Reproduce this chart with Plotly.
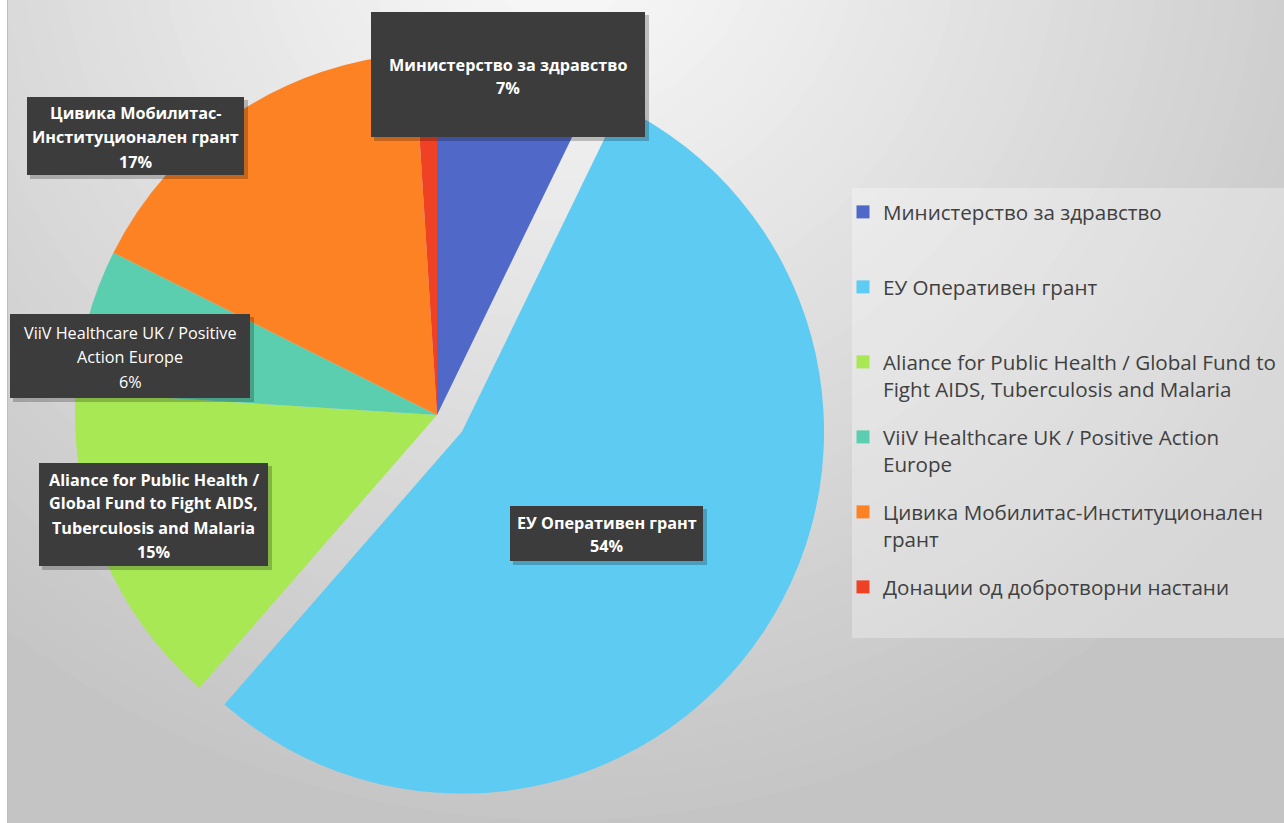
import plotly.graph_objects as go

W, H = 1284, 823

# ---- data ----
categories = [
    "Министерство за здравство",
    "ЕУ Оперативен грант",
    "Aliance for Public Health / Global Fund to Fight AIDS, Tuberculosis and Malaria",
    "ViiV Healthcare UK / Positive Action Europe",
    "Цивика Мобилитас-Институционален грант",
    "Донации од добротворни настани",
]
values = [7.2, 54.2, 14.6, 6.4, 16.6, 1.0]
pulls = [0, 0.083, 0, 0, 0, 0]
colors = ["#5068C8", "#5ECBF2", "#A8E855", "#5BCEAF", "#FD8223", "#EF4123"]

legend_lines = [
    ["Министерство за здравство"],
    ["ЕУ Оперативен грант"],
    ["Aliance for Public Health / Global Fund to", "Fight AIDS, Tuberculosis and Malaria"],
    ["ViiV Healthcare UK / Positive Action", "Europe"],
    ["Цивика Мобилитас-Институционален", "грант"],
    ["Донации од добротворни настани"],
]

callout_lines = [
    ["Министерство за здравство"],
    ["ЕУ Оперативен грант"],
    ["Aliance for Public Health /", "Global Fund to Fight AIDS,", "Tuberculosis and Malaria"],
    ["ViiV Healthcare UK / Positive", "Action Europe"],
    ["Цивика Мобилитас-", "Институционален грант"],
    None,
]

# ---- styling / placement (pixels) ----
callout_boxes = [(371, 12, 645, 137), (510, 506, 703, 561), (39, 463, 268, 566),
                 (10, 314, 250, 398), (27, 97, 244, 175), None]
callout_line_y = [[65, 88], [523, 546], [480, 503, 528, 552],
                  [333, 357, 382], [113, 137, 162], None]
callout_bold = [True, True, True, False, True, None]

FONT = "Open Sans"
LEG_FONT = 20.6
LEG_ITEM = 75

def px(x):
    return x / W

def py(y):
    return 1 - y / H

total = sum(values)
pcts = [round(v / total * 100) for v in values]

cx, cy, R, maxpull = 437, 415, 362, max(pulls)
half = R * (1 + maxpull)

fig = go.Figure()
fig.add_trace(go.Pie(
    labels=categories,
    values=values,
    pull=pulls,
    sort=False,
    direction="clockwise",
    rotation=0,
    textinfo="none",
    hoverinfo="skip",
    showlegend=False,
    marker=dict(colors=colors, line=dict(width=0)),
    domain=dict(x=[px(cx - half), px(cx + half)], y=[py(cy + half), py(cy - half)]),
))

# legend entries (one per category, same colours as the slices)
for i, (cat, lines) in enumerate(zip(categories, legend_lines)):
    ls = list(lines)
    while len(ls) < 2:
        ls.append(" ")
    fig.add_trace(go.Scatter(
        x=[None], y=[None], mode="markers", name="<br>".join(ls),
        legendgroup=f"g{i}", showlegend=True, hoverinfo="skip",
        marker=dict(symbol="square", size=13, color=colors[i]),
    ))

shapes = []
# background radial gradient
gcx, gcy = 560, -80
r = 1400
while r > 0:
    g = int(max(196, min(252, 252 - 0.06 * r)))
    shapes.append(dict(type="circle", xref="paper", yref="paper", layer="below",
                       x0=px(gcx - r), x1=px(gcx + r), y0=py(gcy + r), y1=py(gcy - r),
                       fillcolor=f"rgb({g},{g},{g})", line=dict(width=0)))
    r -= 20
# white strip at left edge and thin border
shapes.append(dict(type="rect", xref="paper", yref="paper", layer="below",
                   x0=px(-5), x1=px(7), y0=0, y1=1, fillcolor="white", line=dict(width=0)))
shapes.append(dict(type="line", xref="paper", yref="paper", layer="below",
                   x0=px(7.5), x1=px(7.5), y0=0, y1=1, line=dict(color="#bdbdbd", width=1)))
# legend background
shapes.append(dict(type="rect", xref="paper", yref="paper", layer="below",
                   x0=px(852), x1=px(1290), y0=py(638), y1=py(188),
                   fillcolor="rgba(255,255,255,0.3)", line=dict(width=0)))

annotations = []
for i, lines in enumerate(callout_lines):
    if lines is None:
        continue
    x0, y0, x1, y1 = callout_boxes[i]
    # shadow
    shapes.append(dict(type="rect", xref="paper", yref="paper", layer="above",
                       x0=px(x0 + 3), x1=px(x1 + 4), y0=py(y1 + 4), y1=py(y0 + 3),
                       fillcolor="rgba(0,0,0,0.22)", line=dict(width=0)))
    shapes.append(dict(type="rect", xref="paper", yref="paper", layer="above",
                       x0=px(x0), x1=px(x1), y0=py(y1), y1=py(y0),
                       fillcolor="#3c3c3c", line=dict(width=0)))
    all_lines = list(lines) + [f"{pcts[i]}%"]
    xc = (x0 + x1) / 2
    for txt, yy in zip(all_lines, callout_line_y[i]):
        annotations.append(dict(
            x=px(xc), y=py(yy), xref="paper", yref="paper",
            xanchor="center", yanchor="middle", showarrow=False,
            text=(f"<b>{txt}</b>" if callout_bold[i] else txt),
            font=dict(family=FONT, size=16.2, color="white"),
        ))

item_h = 2 * LEG_FONT * 1.3 + 3
fig.update_layout(
    width=W, height=H,
    margin=dict(l=0, r=0, t=0, b=0, autoexpand=False),
    paper_bgcolor="white",
    plot_bgcolor="rgba(0,0,0,0)",
    xaxis=dict(visible=False, domain=[0.7, 0.71]),
    yaxis=dict(visible=False, domain=[0.0, 0.01]),
    shapes=shapes,
    annotations=annotations,
    showlegend=True,
    legend=dict(
        x=px(843), y=py(192), xanchor="left", yanchor="top",
        bgcolor="rgba(0,0,0,0)", valign="top",
        font=dict(family=FONT, size=LEG_FONT, color="#404040"),
        traceorder="grouped", tracegroupgap=LEG_ITEM - item_h,
        itemclick=False, itemdoubleclick=False,
    ),
)

fig.write_html("out.html", config={"displayModeBar": False},
               post_script="document.body.style.margin='0';")
